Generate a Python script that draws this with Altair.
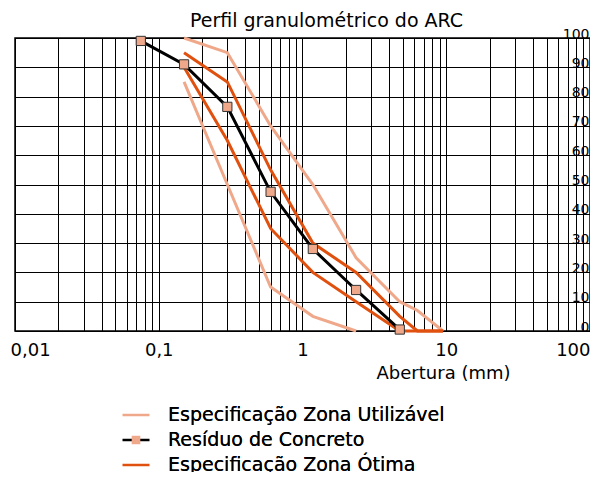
import altair as alt
import pandas as pd

# ---- data ----
util_upper_x = [0.15, 0.3, 0.6, 1.18, 2.36, 4.75, 6.3, 9.5]
util_upper_y = [100, 95, 70, 50, 25, 10, 7, 0]
util_lower_x = [0.15, 0.3, 0.6, 1.18, 2.36]
util_lower_y = [85, 50, 15, 5, 0]
otima_upper_x = [0.15, 0.3, 0.6, 1.18, 2.36, 4.75, 6.3, 9.5]
otima_upper_y = [95, 85, 55, 30, 20, 5, 0, 0]
otima_lower_x = [0.15, 0.3, 0.6, 1.18, 2.36, 4.75, 9.5]
otima_lower_y = [90, 65, 35, 20, 10, 0, 0]
residuo_x = [0.075, 0.15, 0.3, 0.6, 1.18, 2.36, 4.75]
residuo_y = [99, 91, 76.5, 47.5, 28, 14, 0.5]

series_names = ["Especificação Zona Utilizável", "Resíduo de Concreto", "Especificação Zona Ótima"]
series_colors = ["#F0A88A", "#000000", "#E0500F"]
legend_shapes = ["stroke", "M-1,0H-0.32M0.32,0H1M-0.32,-0.32H0.32V0.32H-0.32Z", "stroke"]

x_grid_values = [m * 10.0 ** e for e in range(-2, 2) for m in range(1, 10)] + [100.0]
y_grid_values = list(range(0, 101, 10))

rows = []
def add(xs, ys, serie, curva):
    for a, b in zip(xs, ys):
        rows.append({"abertura": a, "pct": b, "serie": serie, "curva": curva})

add(util_upper_x, util_upper_y, series_names[0], "util_sup")
add(util_lower_x, util_lower_y, series_names[0], "util_inf")
add(otima_upper_x, otima_upper_y, series_names[2], "otima_sup")
add(otima_lower_x, otima_lower_y, series_names[2], "otima_inf")
add(residuo_x, residuo_y, series_names[1], "residuo")
df = pd.DataFrame(rows)

FONT = "DejaVu Sans"

x_axis = alt.Axis(
    values=x_grid_values,
    grid=True, gridColor="black", gridOpacity=1, gridWidth=1,
    ticks=False, tickSize=0, domain=False,
    labelExpr="abs(log(datum.value)/LN10 - round(log(datum.value)/LN10)) < 1e-6 ? replace(format(datum.value, '~g'), '.', ',') : ''",
    labelOverlap=False, labelFlush=False, labelBound=False,
    labelFontSize=18, labelColor="black", labelFont=FONT,
    labelBaseline="alphabetic", labelPadding=24,
    labelAlign={"condition": [{"test": "datum.value < 0.015", "value": "left"},
                              {"test": "datum.value > 50", "value": "right"}],
                "value": "center"},
    labelOffset={"condition": {"test": "datum.value < 0.015", "value": -5}, "value": 0},
    title="Abertura (mm)", titleFontSize=18, titleFontWeight="normal", titleColor="black",
    titleFont=FONT, titleX=495, titleY=47, titleAlign="right", titleBaseline="alphabetic",
)

y_axis = alt.Axis(
    values=y_grid_values, orient="right",
    grid=True, gridColor="black", gridOpacity=1, gridWidth=1,
    ticks=False, tickSize=0, domain=False,
    labelAlign="right", labelBaseline="alphabetic", labelPadding=-1,
    labelFontSize=14, labelColor="black", labelFont=FONT,
    title=None,
)

x_enc = alt.X("abertura:Q", scale=alt.Scale(type="log", domain=[0.01, 100], nice=False), axis=x_axis)
y_enc = alt.Y("pct:Q", scale=alt.Scale(domain=[0, 100], nice=False), axis=y_axis)

def make_legend():
    return alt.Legend(
        orient="none", legendX=106, legendY=362, title=None,
        symbolSize=729, symbolStrokeWidth=2.5, symbolOpacity=1,
        labelFontSize=19, labelFont=FONT, labelColor="black", labelOffset=17, labelLimit=400,
        rowPadding=-4, padding=0,
    )

base = alt.Chart(df).encode(x=x_enc, y=y_enc)

lines = base.mark_line(strokeWidth=3).encode(
    color=alt.Color("serie:N", scale=alt.Scale(domain=series_names, range=series_colors), legend=make_legend()),
    detail="curva:N",
    order=alt.Order("abertura:Q"),
    strokeWidth=alt.condition(alt.datum.serie == series_names[1], alt.value(2.5), alt.value(3)),
)

points = base.transform_filter(alt.datum.serie == series_names[1]).mark_point(
    filled=True, size=85, fill="#F0A88A", stroke="#333333", strokeWidth=1, opacity=1
).encode(
    shape=alt.Shape("serie:N", scale=alt.Scale(domain=series_names, range=["square", "square", "square"]),
                    legend=None),
)

# legend symbols: lines for the zones, line + square for the residue
legend_shape_layer = base.transform_filter("false").mark_point(filled=True, fill="#F0A88A", opacity=1).encode(
    shape=alt.Shape("serie:N", scale=alt.Scale(domain=series_names, range=legend_shapes), legend=make_legend()),
)

chart = alt.layer(lines, legend_shape_layer, points).resolve_scale(shape="independent").properties(
    width=575, height=293,
    title=alt.TitleParams("Perfil granulométrico do ARC", fontSize=19, font=FONT, fontWeight="normal",
                          color="black", anchor="middle", dx=24, dy=32, offset=13, baseline="alphabetic"),
    autosize=alt.AutoSizeParams(type="none"),
    padding={"left": 7, "top": 30, "right": 0, "bottom": 141},
).configure(font=FONT).configure_view(stroke="black", strokeWidth=1.5)

chart.save("out.html", embed_options={"renderer": "svg", "actions": False})
